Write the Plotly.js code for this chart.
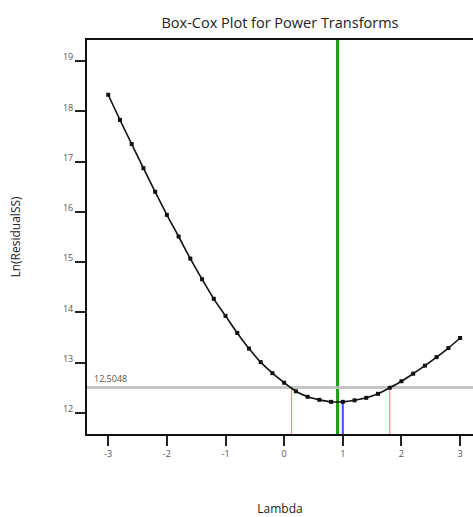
<!DOCTYPE html>
<html>
<head>
<meta charset="utf-8">
<script src="https://cdn.plot.ly/plotly-3.0.1.min.js"></script>
<style>html,body{margin:0;padding:0;background:#fff;}#chart{width:473px;height:517px;}</style>
</head>
<body>
<div id="chart"></div>
<script>
const lambdaValues = [-3.0,-2.8,-2.6,-2.4,-2.2,-2.0,-1.8,-1.6,-1.4,-1.2,-1.0,-0.8,-0.6,-0.4,-0.2,0.0,0.2,0.4,0.6,0.8,1.0,1.2,1.4,1.6,1.8,2.0,2.2,2.4,2.6,2.8,3.0];
const lnResidualSS = [18.33,17.83,17.35,16.87,16.40,15.94,15.51,15.07,14.66,14.27,13.93,13.59,13.28,13.01,12.79,12.60,12.43,12.32,12.26,12.22,12.22,12.25,12.30,12.38,12.50,12.63,12.78,12.94,13.11,13.29,13.49];
const xTickVals = [-3,-2,-1,0,1,2,3];
const xTickText = ["-3","-2","-1","0","1","2","3"];
const yTickVals = [12,13,14,15,16,17,18,19];
const yTickText = ["12","13","14","15","16","17","18","19"];
const bestLambda = 0.91;
const currentLambda = 1.0;
const currentLnSS = 12.22;
const ciLow = 0.126;
const ciHigh = 1.80;
const threshold = 12.5048;
const thresholdLabel = "12,5048";

const traces = [{
  x: lambdaValues, y: lnResidualSS, type: 'scatter', mode: 'lines+markers',
  line: {color: '#111', width: 1.6, shape: 'spline'},
  marker: {symbol: 'square', size: 4, color: '#111'},
  hoverinfo: 'x+y', showlegend: false
}];

const layout = {
  width: 473, height: 517,
  margin: {l: 87, r: 0, t: 40, b: 83},
  paper_bgcolor: '#fff', plot_bgcolor: '#fff',
  font: {family: '"Open Sans", "Noto Sans", sans-serif', color: '#555'},
  title: {text: 'Box-Cox Plot for Power Transforms', font: {size: 14.5, color: '#222'}, x: 0.5, xref: 'paper', y: 1, yref: 'container', yanchor: 'top', pad: {t: 18}},
  xaxis: {
    range: [-3.362, 3.22], tickvals: xTickVals, ticktext: xTickText,
    ticks: 'outside', ticklen: 10, tickwidth: 2, tickcolor: '#222',
    showline: true, linecolor: '#111', linewidth: 2, mirror: true,
    showgrid: false, zeroline: false, tickfont: {size: 9, color: '#555'},
    title: {text: 'Lambda', font: {size: 12, color: '#222'}, standoff: 56}
  },
  yaxis: {
    range: [11.58, 19.42], tickvals: yTickVals, ticktext: yTickText,
    ticks: 'outside', ticklen: 10, tickwidth: 2, tickcolor: '#222',
    showline: true, linecolor: '#111', linewidth: 2,
    showgrid: false, zeroline: false, tickfont: {size: 9, color: '#555'},
    ticklabelshift: -4,
    title: {text: 'Ln(ResidualSS)', font: {size: 12, color: '#222'}, standoff: 40}
  },
  shapes: [
    {type: 'line', xref: 'x', yref: 'paper', x0: bestLambda, x1: bestLambda, y0: 0, y1: 1, line: {color: '#16a316', width: 3}, layer: 'below'},
    {type: 'line', xref: 'paper', yref: 'y', x0: 0, x1: 1, y0: threshold, y1: threshold, line: {color: 'rgba(190,190,190,0.9)', width: 3}, layer: 'below'},
    {type: 'line', xref: 'x', yref: 'y', x0: currentLambda, x1: currentLambda, y0: 11.58, y1: currentLnSS, line: {color: '#4a4aff', width: 2}, layer: 'below'},
    {type: 'line', xref: 'x', yref: 'y', x0: ciLow, x1: ciLow, y0: 11.58, y1: threshold, line: {color: '#ff8a8a', width: 1.2}, layer: 'below'},
    {type: 'line', xref: 'x', yref: 'y', x0: ciHigh, x1: ciHigh, y0: 11.58, y1: threshold, line: {color: '#ff8a8a', width: 1.2}, layer: 'below'}
  ],
  annotations: [
    {xref: 'paper', yref: 'y', x: 0.012, y: threshold, text: thresholdLabel, showarrow: false, xanchor: 'left', yanchor: 'bottom', yshift: 1, font: {size: 9, color: '#555'}}
  ]
};
Plotly.newPlot('chart', traces, layout, {displayModeBar: false, staticPlot: true});
</script>
</body>
</html>
